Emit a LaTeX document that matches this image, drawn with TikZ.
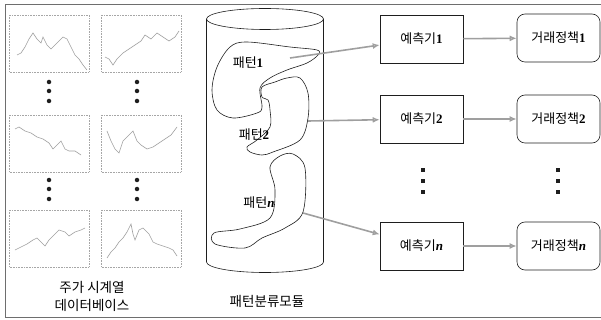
\documentclass[tikz,border=0pt]{standalone}
\usepackage{fontspec}
\setmainfont{Liberation Serif}
\newfontfamily\kr{Noto Sans CJK KR}
\usetikzlibrary{arrows.meta,positioning}
\definecolor{ink}{RGB}{30,30,30}
\definecolor{frame}{RGB}{110,110,110}
\newcommand\num[1]{{\rmfamily\bfseries #1}}
\newcommand\nn{{\rmfamily\bfseries\itshape n}}
\tikzset{
  chartbox/.style={draw=gray!70,densely dotted,line width=0.6pt},
  series/.style={draw=gray!75,line width=0.6pt},
  blob/.style={draw=ink,line width=0.6pt},
  pred/.style={draw=ink,line width=0.6pt,minimum width=83pt,minimum height=48pt,
               font=\fontsize{13}{15}\selectfont},
  policy/.style={pred,rounded corners=8pt},
  ar/.style={-{Latex[open,length=7pt,width=6pt]},draw=gray!75,line width=1.6pt},
}
\begin{document}
\begin{tikzpicture}[x=1pt,y=-1pt,
    lbl/.style={font=\fontsize{13}{15}\selectfont\kr},
    dbtxt/.style={font=\fontsize{13.5}{15}\selectfont\kr},
    rdot/.style={fill=ink,circle,inner sep=0pt,minimum size=4.5pt},
    sdot/.style={fill=ink,inner sep=0pt,minimum size=4pt}]
  \useasboundingbox (0,0) rectangle (601,320);
  % outer frame
  \draw[frame,line width=1pt] (601,5) -- (5,5) -- (5,317) -- (601,317);

  % stock charts
  \foreach \cx/\cy/\pts in {
      9/15/{(8,40) (12,38) (16,32) (20,24) (24,18) (28,24) (32,28) (34,22) (38,30) (42,34) (46,30) (50,26) (54,22) (58,24) (62,32) (66,40) (70,44) (74,50) (78,55)},
      101/15/{(4,42) (8,44) (12,50) (16,44) (22,38) (28,34) (34,30) (40,26) (44,20) (50,24) (56,18) (62,22) (68,26) (74,22) (78,16)},
      9/115/{(6,14) (10,12) (16,16) (22,18) (28,22) (34,24) (40,28) (44,34) (48,30) (52,26) (56,34) (60,36) (66,36) (72,40)},
      101/115/{(6,16) (10,26) (14,34) (18,38) (22,26) (28,20) (32,16) (36,26) (40,30) (46,34) (52,32) (58,28) (64,24) (70,20) (76,12)},
      9/210/{(6,40) (10,38) (14,36) (18,34) (24,30) (28,28) (32,32) (36,36) (40,30) (46,24) (50,20) (56,22) (60,26) (66,22) (72,20) (76,18)},
      101/210/{(6,48) (10,42) (14,38) (18,32) (22,28) (26,22) (30,14) (32,24) (34,30) (38,20) (42,18) (48,24) (52,32) (56,34) (62,36) (68,38) (72,40) (76,46)}} {
    \begin{scope}[shift={(\cx,\cy)}]
      \draw[chartbox] (0,0) rectangle (80,57);
      \draw[series] plot coordinates {\pts};
    \end{scope}
  }
  \foreach \x in {49,137} \foreach \y in {82,91,101,180,189,199}
    \node[rdot] at (\x,\y) {};
  \node[dbtxt] (db1) at (92,287) {주가 시계열};
  \node[dbtxt] (db2) at (92,305) {데이터베이스};

  % pattern classifier (cylinder)
  \draw[ink,line width=0.6pt] (265,19) ellipse [x radius=58.5pt,y radius=10.5pt];
  \draw[ink,line width=0.6pt] (206.5,19) -- (206.5,262)
    arc[start angle=180,end angle=360,x radius=58.5pt,y radius=10.5pt] -- (323.5,19);
  \node[dbtxt] (cls) at (267,301) {패턴분류모듈};

  \draw[blob] plot[smooth cycle,tension=0.55] coordinates {(317,50) (318,55) (307,63) (287,70)
    (270,78) (260,88) (262,107) (257,113) (233,118) (217,110) (212,90) (217,67) (230,47)
    (247,42) (290,47)};
  \draw[blob] plot[smooth cycle,tension=0.55] coordinates {(300,78) (308,93) (308,118) (300,140)
    (273,152) (262,155) (250,152) (247,147) (257,140) (270,127) (270,110) (268,100) (262,97)
    (262,87) (275,82) (287,78)};
  \draw[blob] plot[smooth cycle,tension=0.55] coordinates {(293,154) (305,168) (303,212) (285,228)
    (262,238) (245,248) (215,244) (214,233) (240,229) (270,218) (275,190) (270,167) (280,156)};
  \node[lbl] (pt1) at (248,63) {패턴\num{1}};
  \node[lbl] (pt2) at (254,135) {패턴\num{2}};
  \node[lbl] (ptn) at (259,203) {패턴\nn};
  \coordinate (b1) at (290,58);
  \coordinate (b2) at (308,121);
  \coordinate (bn) at (303,213);

  % predictors and trading policies
  \node[pred] (p1) at (421.5,39) {{\kr 예측기}\num{1}};
  \node[pred] (p2) at (421.5,119) {{\kr 예측기}\num{2}};
  \node[pred] (pn) at (421.5,246) {{\kr 예측기}\nn};
  \node[policy] (t1) at (558.5,38) {{\kr 거래정책}\num{1}};
  \node[policy] (t2) at (558.5,119) {{\kr 거래정책}\num{2}};
  \node[policy] (tn) at (558.5,246) {{\kr 거래정책}\nn};
  \foreach \y in {170,181,192} {
    \node[sdot] at (423,\y) {};
    \node[sdot] at (558,\y) {};
  }
  \foreach \a/\b in {b1/p1,b2/p2,bn/pn,p1/t1,p2/t2,pn/tn} \draw[ar] (\a) -- (\b);
\end{tikzpicture}
\end{document}
